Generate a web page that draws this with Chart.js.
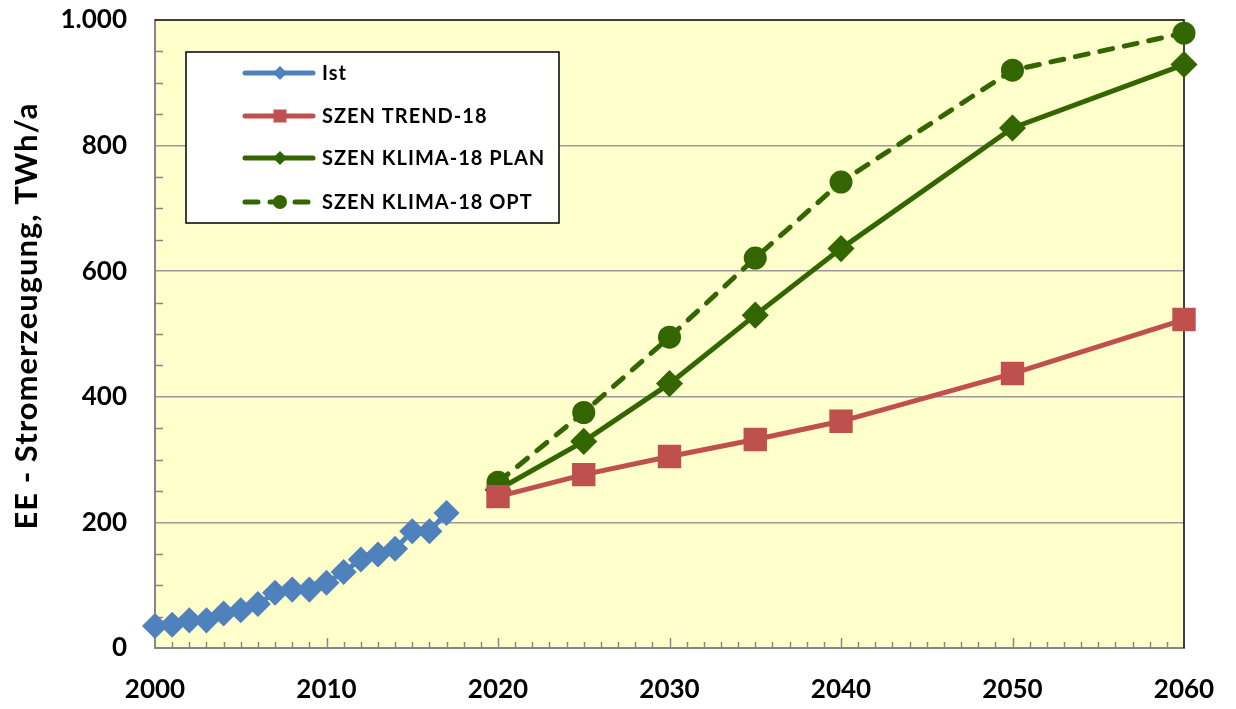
<!DOCTYPE html>
<html>
<head>
<meta charset="utf-8">
<script src="https://cdn.jsdelivr.net/npm/chart.js@4.4.1/dist/chart.umd.min.js"></script>
<style>
  html, body { margin: 0; padding: 0; background: #ffffff; }
  #wrap { width: 1236px; height: 709px; position: relative; }
</style>
</head>
<body>
<div id="wrap"><canvas id="c" width="1236" height="709"></canvas></div>
<script>
// ---- data ----
const istYears = [2000, 2001, 2002, 2003, 2004, 2005, 2006, 2007, 2008, 2009, 2010, 2011, 2012, 2013, 2014, 2015, 2016, 2017];
const istValues = [35, 37, 44, 44, 55, 60, 70, 88, 93, 93, 104, 121, 141, 149, 158, 186, 186, 215];
const scenYears = [2020, 2025, 2030, 2035, 2040, 2050, 2060];
const trendValues = [241, 276, 305, 332, 361, 437, 523];
const planValues = [252, 329, 421, 530, 636, 828, 929];
const optValues = [264, 375, 495, 621, 742, 920, 979];
const seriesNames = ['Ist', 'SZEN TREND-18', 'SZEN KLIMA-18 PLAN', 'SZEN KLIMA-18 OPT'];
const xTickValues = [2000, 2010, 2020, 2030, 2040, 2050, 2060];
const xTickLabels = ['2000', '2010', '2020', '2030', '2040', '2050', '2060'];
const yTickValues = [0, 200, 400, 600, 800, 1000];
const yTickLabels = ['0', '200', '400', '600', '800', '1.000'];
const yTitle = 'EE - Stromerzeugung, TWh/a';

const BLUE = '#4F81BD', RED = '#C0504D', GREEN = '#336600';
const FONT = 'Lato, "Open Sans", "DejaVu Sans", sans-serif';

function pts(xs, ys) { return xs.map((x, i) => ({ x: x, y: ys[i] })); }

const decorPlugin = {
  id: 'decor',
  beforeDraw(chart) {
    const { ctx, chartArea: a } = chart;
    ctx.save();
    ctx.fillStyle = '#FFFFCC';
    ctx.fillRect(a.left, a.top, a.right - a.left, a.bottom - a.top);
    ctx.restore();
  },
  beforeDatasetsDraw(chart) {
    const { ctx, chartArea: a, scales } = chart;
    const xs = scales.x, ys = scales.y;
    ctx.save();
    ctx.strokeStyle = '#000000';
    ctx.lineWidth = 1.5;
    ctx.beginPath();
    ctx.moveTo(a.left, a.top); ctx.lineTo(a.right, a.top); ctx.lineTo(a.right, a.bottom);
    ctx.stroke();
    ctx.strokeStyle = '#868686';
    ctx.lineWidth = 1.5;
    ctx.beginPath();
    for (let yr = xs.min + 1; yr < xs.max; yr++) {
      const px = Math.round(xs.getPixelForValue(yr)) + 0.5;
      const len = (yr % 10 === 0) ? 10 : 6;
      ctx.moveTo(px, a.bottom); ctx.lineTo(px, a.bottom - len);
    }
    for (let v = 50; v < ys.max; v += 50) {
      if (v % 200 === 0) continue;
      const py = Math.round(ys.getPixelForValue(v)) + 0.5;
      ctx.moveTo(a.left, py); ctx.lineTo(a.left + 8, py);
    }
    ctx.stroke();
    ctx.restore();
  },
  afterDraw(chart) {
    const { ctx, chartArea: a } = chart;
    ctx.save();
    // y-axis title
    ctx.translate(27, 316);
    ctx.rotate(-Math.PI / 2);
    ctx.fillStyle = '#000000';
    ctx.font = 'bold 31px ' + FONT;
    if ('letterSpacing' in ctx) ctx.letterSpacing = '1px';
    ctx.textAlign = 'center';
    ctx.textBaseline = 'middle';
    ctx.fillText(yTitle, 0, 0);
    ctx.restore();

    ctx.save();
    const box = { x: 186, y: 52, w: 373, h: 171 };
    ctx.fillStyle = '#ffffff';
    ctx.fillRect(box.x, box.y, box.w, box.h);
    ctx.strokeStyle = '#000000';
    ctx.lineWidth = 1.5;
    ctx.strokeRect(box.x, box.y, box.w, box.h);
    const rows = [73, 116, 158, 202];
    chart.data.datasets.forEach((ds, i) => {
      const y = rows[i];
      ctx.strokeStyle = ds.borderColor;
      ctx.lineWidth = ds.borderWidth;
      ctx.lineCap = 'round';
      ctx.setLineDash(ds.borderDash || []);
      ctx.beginPath();
      ctx.moveTo(245, y); ctx.lineTo(313, y);
      ctx.stroke();
      ctx.setLineDash([]);
      ctx.fillStyle = ds.pointBackgroundColor;
      const cx = 280;
      ctx.beginPath();
      if (ds.pointStyle === 'rectRot') {
        const r = 7;
        ctx.moveTo(cx, y - r); ctx.lineTo(cx + r, y); ctx.lineTo(cx, y + r); ctx.lineTo(cx - r, y); ctx.closePath();
      } else if (ds.pointStyle === 'rect') {
        ctx.rect(cx - 6.5, y - 6.5, 13, 13);
      } else {
        ctx.arc(cx, y, 7, 0, Math.PI * 2);
      }
      ctx.fill();
      ctx.fillStyle = '#000000';
      ctx.font = 'bold 20px ' + FONT;
      if ('letterSpacing' in ctx) ctx.letterSpacing = '1px';
      ctx.textBaseline = 'middle';
      ctx.textAlign = 'left';
      ctx.fillText(ds.label, 322, y + 1);
    });
    ctx.restore();
  }
};

new Chart(document.getElementById('c'), {
  type: 'line',
  data: {
    datasets: [
      { label: seriesNames[0], data: pts(istYears, istValues), borderColor: BLUE, backgroundColor: BLUE,
        pointBackgroundColor: BLUE, pointBorderColor: BLUE, borderWidth: 5, pointStyle: 'rectRot', pointRadius: 9.5, clip: false },
      { label: seriesNames[1], data: pts(scenYears, trendValues), borderColor: RED, backgroundColor: RED,
        pointBackgroundColor: RED, pointBorderColor: RED, borderWidth: 5, pointStyle: 'rect', pointRadius: 13, clip: false },
      { label: seriesNames[2], data: pts(scenYears, planValues), borderColor: GREEN, backgroundColor: GREEN,
        pointBackgroundColor: GREEN, pointBorderColor: GREEN, borderWidth: 5, pointStyle: 'rectRot', pointRadius: 10, clip: false },
      { label: seriesNames[3], data: pts(scenYears, optValues), borderColor: GREEN, backgroundColor: GREEN,
        pointBackgroundColor: GREEN, pointBorderColor: GREEN, borderWidth: 5, borderDash: [13, 12], borderCapStyle: 'round',
        pointStyle: 'circle', pointRadius: 9, clip: false }
    ]
  },
  options: {
    responsive: false,
    animation: false,
    devicePixelRatio: 1,
    layout: { padding: { top: 20, right: 52, left: 0, bottom: 0 } },
    plugins: { legend: { display: false }, tooltip: { enabled: false } },
    elements: { line: { tension: 0 }, point: { borderWidth: 0 } },
    scales: {
      x: {
        type: 'linear', min: 2000, max: 2060,
        afterFit(s) { s.height = 61; s.paddingLeft = 0; s.paddingRight = 0; },
        afterBuildTicks(s) { s.ticks = xTickValues.map(v => ({ value: v })); },
        grid: { display: false, drawTicks: false },
        border: { display: true, color: '#868686', width: 2 },
        ticks: {
          padding: 26, color: '#000000', font: { family: FONT, size: 26, weight: 'bold' },
          maxRotation: 0, autoSkip: false,
          callback: (v) => { const i = xTickValues.indexOf(v); return i >= 0 ? xTickLabels[i] : ''; }
        }
      },
      y: {
        type: 'linear', min: 0, max: 1000,
        afterFit(s) { s.width = 155; s.paddingTop = 0; s.paddingBottom = 0; },
        afterBuildTicks(s) { s.ticks = yTickValues.map(v => ({ value: v })); },
        grid: {
          drawTicks: false, lineWidth: 1.5,
          color: (c) => (c.tick && (c.tick.value === 0 || c.tick.value === 1000)) ? 'rgba(0,0,0,0)' : '#9A9A9A'
        },
        border: { display: true, color: '#868686', width: 2 },
        title: { display: false },
        ticks: {
          padding: 28, color: '#000000', font: { family: FONT, size: 26, weight: 'bold' },
          callback: (v) => { const i = yTickValues.indexOf(v); return i >= 0 ? yTickLabels[i] : ''; }
        }
      }
    }
  },
  plugins: [decorPlugin]
});
</script>
</body>
</html>
